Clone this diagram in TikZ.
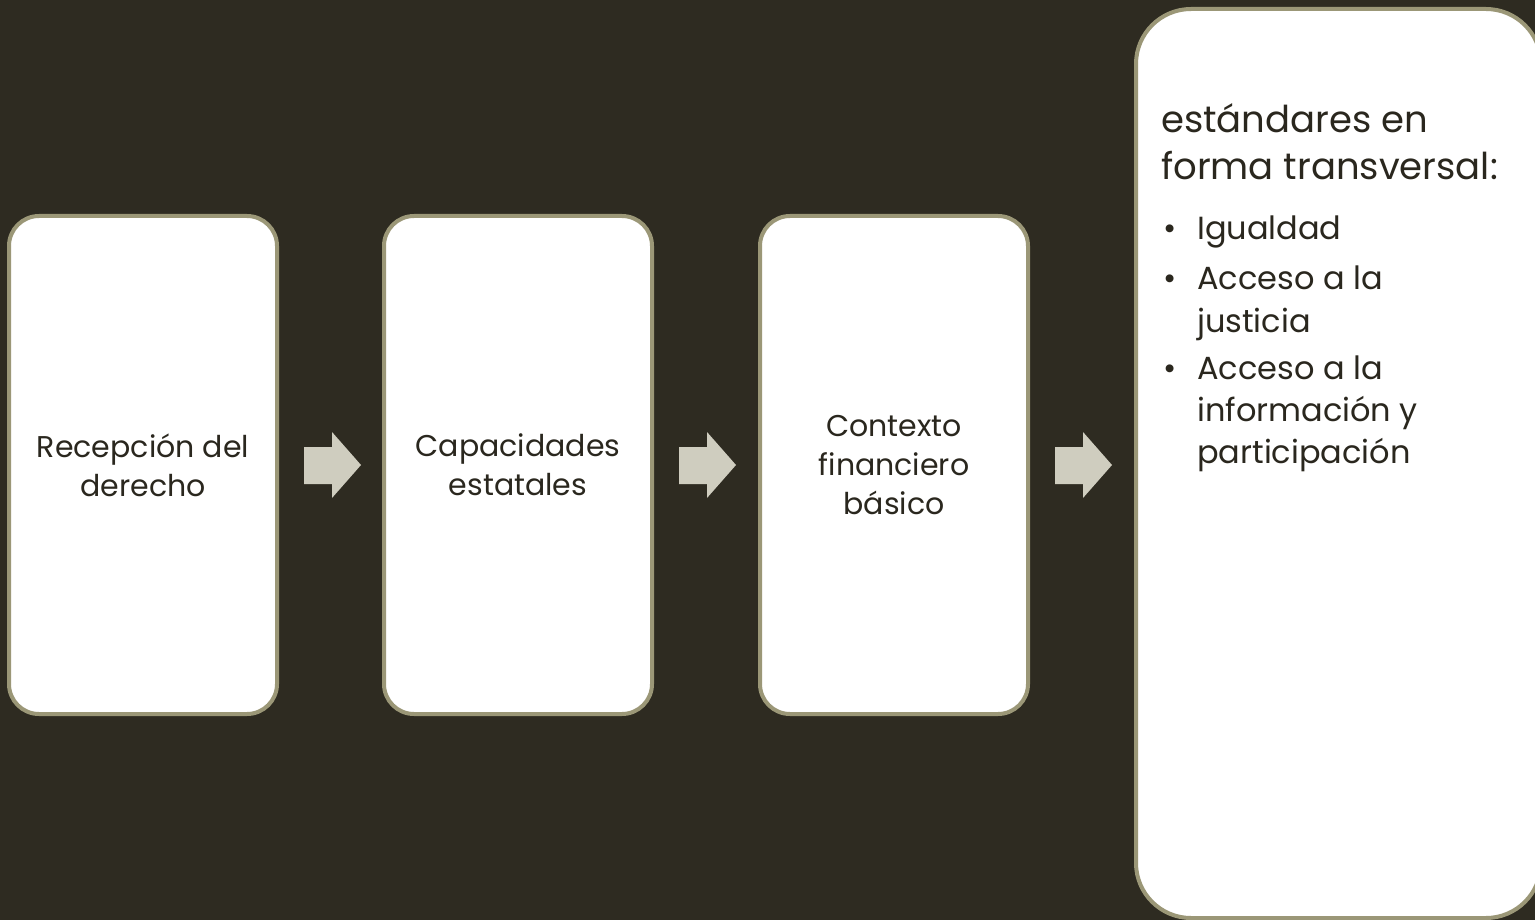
\documentclass[tikz,border=0pt]{standalone}
\usepackage{fontspec}
\setmainfont{Poppins}
\definecolor{bg}{HTML}{2E2B21}
\definecolor{rim}{HTML}{9B9777}
\definecolor{arr}{HTML}{CFCDBF}
\definecolor{ink}{HTML}{2A271E}
\begin{document}
\begin{tikzpicture}[x=1pt,y=-1pt,
  card/.style={draw=rim,line width=4pt,fill=white,rounded corners=30pt},
  lbl/.style={text=ink,font=\fontsize{30}{39}\selectfont,align=center,inner sep=0pt},
  itm/.style={text=ink,font=\fontsize{32}{42}\selectfont,align=left,anchor=base west,inner sep=0pt},
  hd/.style={text=ink,font=\fontsize{37}{47}\selectfont,align=left,anchor=base west,inner sep=0pt},
  chev/.style={fill=arr,draw=none}]
\useasboundingbox[fill=bg] (0,0) rectangle (1535,920);
\draw[card] (9,216) rectangle (277,714);
\draw[card] (384,216) rectangle (652,714);
\draw[card] (760,216) rectangle (1028,714);
\draw[card,rounded corners=55pt] (1136,9) rectangle (1541,918);
\node[lbl] (b1) at (143,465) {Recepción del\\derecho};
\node[lbl] (b2) at (518,465) {Capacidades\\estatales};
\node[lbl] (b3) at (894,465) {Contexto\\financiero\\básico};
\foreach \x/\n in {304/a1,679/a2,1055/a3}{
  \fill[chev] (\x,447) -- (\x+28,447) -- (\x+28,432) -- (\x+57,465) -- (\x+28,498) -- (\x+28,484) -- (\x,484) -- cycle;
}
\node[hd] (h1) at (1161,133) {estándares en};
\node[hd] (h2) at (1161,180) {forma transversal:};
\node[itm] (d1) at (1163,240) {•};
\node[itm] (i1) at (1197,240) {Igualdad};
\node[itm] (d2) at (1163,290) {•};
\node[itm] (i2) at (1197,290) {Acceso a la};
\node[itm] (i2b) at (1197,332) {justicia};
\node[itm] (d3) at (1163,379) {•};
\node[itm] (i3) at (1197,379) {Acceso a la};
\node[itm] (i3b) at (1197,421) {información y};
\node[itm] (i3c) at (1197,463) {participación};
\end{tikzpicture}
\end{document}
